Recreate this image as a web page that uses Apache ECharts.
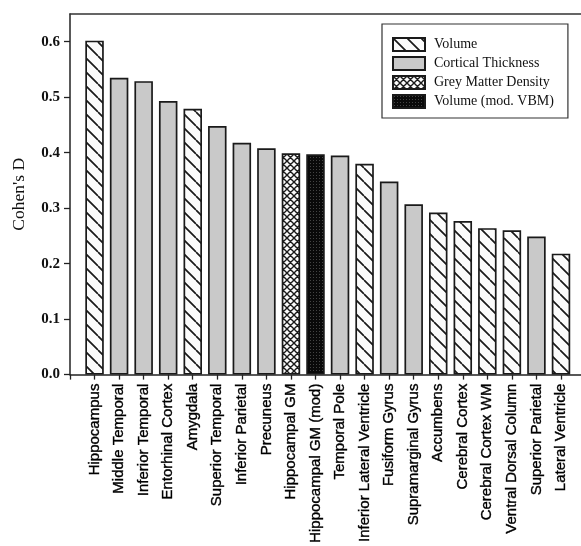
<!DOCTYPE html>
<html><head><meta charset="utf-8">
<script src="https://cdn.jsdelivr.net/npm/echarts@6/dist/echarts.min.js"></script>
<style>html,body{margin:0;padding:0;background:#fff}#c{width:581px;height:546px}</style>
</head><body><div id="c"></div>
<script>
const categories = ["Hippocampus","Middle Temporal","Inferior Temporal","Entorhinal Cortex","Amygdala","Superior Temporal","Inferior Parietal","Precuneus","Hippocampal GM","Hippocampal GM (mod)","Temporal Pole","Inferior Lateral Ventricle","Fusiform Gyrus","Supramarginal Gyrus","Accumbens","Cerebral Cortex","Cerebral Cortex WM","Ventral Dorsal Column","Superior Parietal","Lateral Ventricle"];
const values = [0.602,0.535,0.529,0.493,0.479,0.448,0.418,0.408,0.399,0.397,0.395,0.380,0.348,0.307,0.292,0.277,0.264,0.260,0.249,0.218];
const types = ["Volume","Cortical Thickness","Cortical Thickness","Cortical Thickness","Volume","Cortical Thickness","Cortical Thickness","Cortical Thickness","Grey Matter Density","Volume (mod. VBM)","Cortical Thickness","Volume","Cortical Thickness","Cortical Thickness","Volume","Volume","Volume","Volume","Cortical Thickness","Volume"];
const seriesNames = ["Volume","Cortical Thickness","Grey Matter Density","Volume (mod. VBM)"];
const yTicks = [0,0.1,0.2,0.3,0.4,0.5,0.6];
const xTicks = [0,1,2,3,4,5,6,7,8,9,10,11,12,13,14,15,16,17,18,19,20];
const xLabels = [1,2,3,4,5,6,7,8,9,10,11,12,13,14,15,16,17,18,19,20];

function makeCanvas(s, draw){const c=document.createElement('canvas');c.width=s;c.height=s;const g=c.getContext('2d');draw(g,s);return c;}
const hatch = makeCanvas(14,(g,s)=>{g.fillStyle='#fbfbfb';g.fillRect(0,0,s,s);g.strokeStyle='#1a1a1a';g.lineWidth=1.7;g.beginPath();for(let k=-1;k<=1;k++){g.moveTo(k*s,0);g.lineTo(k*s+s,s);}g.stroke();});
const cross = makeCanvas(7,(g,s)=>{g.fillStyle='#fbfbfb';g.fillRect(0,0,s,s);g.strokeStyle='#1a1a1a';g.lineWidth=1.4;g.beginPath();for(let k=-1;k<=1;k++){g.moveTo(k*s,0);g.lineTo(k*s+s,s);g.moveTo(k*s+s,0);g.lineTo(k*s,s);}g.stroke();});
const dots = makeCanvas(3,(g,s)=>{g.fillStyle='#0a0a0a';g.fillRect(0,0,s,s);g.fillStyle='#444';g.fillRect(1,1,1,1);});
const fills = {"Volume":{image:hatch,repeat:'repeat'},"Cortical Thickness":'#c9c9c9',"Grey Matter Density":{image:cross,repeat:'repeat'},"Volume (mod. VBM)":{image:dots,repeat:'repeat'}};

const series = seriesNames.map(n=>({
  name:n, type:'bar', barWidth:18.5, barGap:'-100%',
  itemStyle:{color:fills[n], borderColor:'#1a1a1a', borderWidth:1.7},
  data: values.map((v,i)=>types[i]===n?[i+1,v]:null).filter(d=>d)
}));

const chart = echarts.init(document.getElementById('c'),null,{renderer:'canvas'});
chart.setOption({
  backgroundColor:'#fff',
  animation:false,
  grid:{left:70,top:14,right:0,height:362,show:false},
  legend:{orient:'vertical',left:382,top:24,padding:[13,14,9,10],itemGap:4,itemWidth:32,itemHeight:13,
    borderColor:'#333',borderWidth:1.2,backgroundColor:'#fff',icon:'rect',
    textStyle:{fontFamily:'Liberation Serif',fontSize:14,color:'#111',lineHeight:15,padding:[0,0,0,4]},data:seriesNames},
  xAxis:[{type:'value',min:0,max:20.815,splitLine:{show:false},
    axisLine:{lineStyle:{color:'#222',width:1.5}},
    axisTick:{customValues:xTicks,length:5,lineStyle:{color:'#222',width:1.3}},
    axisLabel:{customValues:xLabels,rotate:90,margin:9,fontFamily:'Liberation Sans',fontSize:15,color:'#000',
      textBorderColor:'#000',textBorderWidth:0.35,
      formatter:v=>categories[v-1]||''}},
    {type:'value',position:'top',min:0,max:20.815,splitLine:{show:false},
    axisLine:{show:true,lineStyle:{color:'#333',width:1.5}},axisTick:{show:false},axisLabel:{show:false}}],
  yAxis:{type:'value',min:0,max:0.65,interval:0.1,splitLine:{show:false},
    name:"Cohen's D",nameLocation:'middle',nameGap:42,nameRotate:90,
    nameTextStyle:{fontFamily:'Liberation Serif',fontSize:17.5,color:'#111'},
    axisLine:{show:true,lineStyle:{color:'#222',width:1.5}},
    axisTick:{show:true,customValues:yTicks,length:6,lineStyle:{color:'#222',width:1.3}},
    axisLabel:{customValues:yTicks,margin:10,fontFamily:'Liberation Serif',fontWeight:'bold',fontSize:15,color:'#111',
      formatter:v=>v.toFixed(1)}},
  series:series
});
</script></body></html>
